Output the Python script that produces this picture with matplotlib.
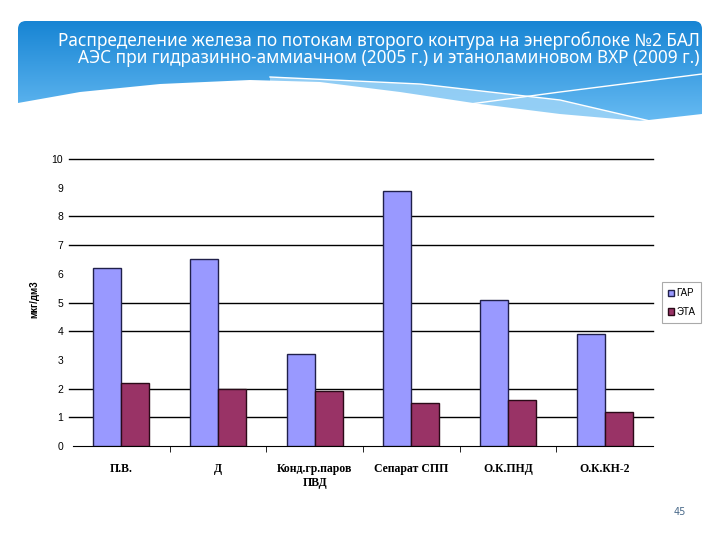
"""Iron distribution chart on a slide-like background."""

import matplotlib

matplotlib.use("Agg")

import matplotlib.pyplot as plt
import numpy as np
from matplotlib.patches import FancyBboxPatch, Polygon

# data
categories = ["П.В.", "Д", "Конд.гр.паров\nПВД", "Сепарат СПП", "О.К.ПНД", "О.К.КН-2"]
gar = [6.2, 6.5, 3.2, 8.9, 5.1, 3.9]
eta = [2.2, 2.0, 1.9, 1.5, 1.6, 1.2]
series_names = ["ГАР", "ЭТА"]
y_ticks = list(range(0, 11))
grid_levels = [1, 2, 4, 5, 7, 8, 10]  # lines visible on the slide
title = ("Распределение железа по потокам второго контура на энергоблоке №2 БАЛ\n"
         "АЭС при гидразинно-аммиачном (2005 г.) и этаноламиновом ВХР (2009 г.)")
y_label = "мкг/дм3"
page_no = "45"

fig = plt.figure(figsize=(7.2, 5.4), dpi=100)

# slide background, pixel coordinates
bg = fig.add_axes([0, 0, 1, 1])
bg.set_xlim(0, 720)
bg.set_ylim(540, 0)
bg.axis("off")

banner = FancyBboxPatch((18, 21), 684, 110, boxstyle="round,pad=0,rounding_size=8",
                        facecolor="none", edgecolor="none")
bg.add_patch(banner)
top_col = np.array([0.09, 0.52, 0.83])
bot_col = np.array([0.40, 0.73, 0.95])
t = np.linspace(0, 1, 256)[:, None]
grad = top_col + (bot_col - top_col) * t
img = bg.imshow(grad[:, None, :].repeat(2, axis=1), extent=(18, 702, 120, 21),
                aspect="auto", zorder=1)
img.set_clip_path(banner)

# lighter streak on the right
light = Polygon([(270, 77), (420, 84), (560, 100), (650, 121), (702, 125), (702, 135),
                 (270, 135)], closed=True, facecolor=(0.62, 0.83, 0.97),
                edgecolor="none", zorder=2, alpha=0.85)
bg.add_patch(light)

# white wave below the banner
wave_x = [18, 80, 160, 250, 320, 400, 480, 560, 640, 702]
wave_y = [103, 92, 84, 80, 82, 92, 104, 114, 121, 114]
wave = Polygon(list(zip(wave_x, wave_y)) + [(702, 140), (18, 140)], closed=True,
               facecolor="white", edgecolor="none", zorder=3)
bg.add_patch(wave)

# thin white lines across the banner
bg.plot([270, 420, 560, 650], [77, 84, 100, 121], color="white", lw=1.0, zorder=4)
bg.plot([440, 560, 702], [108, 92, 74], color="white", lw=1.0, zorder=4)

bg.text(700, 49, title, ha="right", va="center", color="white", fontsize=12.4,
        family="Noto Sans", linespacing=0.95, zorder=5)
bg.text(680, 512, page_no, ha="center", va="center", color="#4a6a8a", fontsize=7)

# chart
ax = fig.add_axes([73 / 720, 1 - 446 / 540, 580 / 720, 287 / 540])
ax.patch.set_alpha(0)
x = np.arange(len(categories))
w = 0.29
ax.bar(x - w / 2, gar, w, color="#9999FF", edgecolor="#20204a", linewidth=1,
       label=series_names[0], zorder=3)
ax.bar(x + w / 2, eta, w, color="#993366", edgecolor="#2a0a18", linewidth=1,
       label=series_names[1], zorder=3)

for lvl in grid_levels:
    ax.axhline(lvl, xmin=-0.007, xmax=1, color="black", lw=1, clip_on=False, zorder=1)

ax.set_xlim(-0.5, len(categories) - 0.5)
ax.set_ylim(0, 10)
ax.set_yticks(y_ticks)
ax.set_yticklabels([str(v) for v in y_ticks], family="Liberation Sans", fontsize=7.5)
ax.tick_params(axis="y", length=0, pad=7)
ax.set_xticks(x)
ax.set_xticklabels(categories, family="Liberation Serif", fontweight="bold",
                   fontsize=8.5, linespacing=1.3)
ax.tick_params(axis="x", length=0, pad=12)
ax.set_xticks(np.arange(0.5, len(categories) - 1, 1), minor=True)
ax.tick_params(axis="x", which="minor", length=4, direction="out", color="black")

for side in ["left", "right", "top"]:
    ax.spines[side].set_visible(False)
ax.spines["bottom"].set_color("black")

ax.set_ylabel(y_label, family="Liberation Sans", fontweight="bold", fontsize=7)
ax.yaxis.set_label_coords(-0.058, 0.51)

leg = ax.legend(loc="center left", bbox_to_anchor=(1.007, 0.50),
                prop={"family": "Liberation Sans", "size": 7}, handlelength=0.6,
                handleheight=0.6, handletextpad=0.3, borderpad=0.6, labelspacing=0.9,
                fancybox=False, framealpha=1)
leg.get_frame().set_edgecolor("#aaaaaa")
leg.get_frame().set_linewidth(0.8)

fig.savefig("out.png", dpi=100)
